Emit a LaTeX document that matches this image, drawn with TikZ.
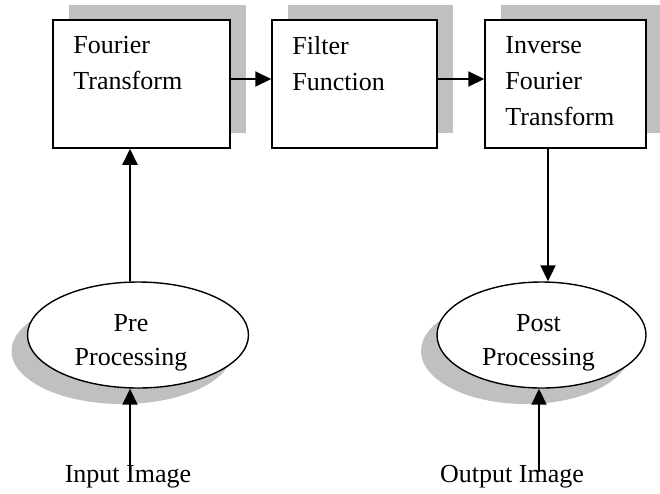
\documentclass[tikz,border=0pt]{standalone}
\usepackage{fontspec}
\setmainfont{Liberation Serif}
\usetikzlibrary{arrows.meta,shapes.geometric,shadows}
\definecolor{shadegray}{HTML}{C0C0C0}

\begin{document}
\begin{tikzpicture}[x=1pt, y=-1pt,
  font=\fontsize{26}{36}\selectfont,
  box/.style={draw, line width=1.5pt, fill=white, minimum height=128pt, inner sep=0pt,
    drop shadow={shadow xshift=16pt, shadow yshift=15pt, fill=shadegray, opacity=1}},
  boxtext/.style={anchor=north west, align=left, inner sep=0pt, xshift=21pt, yshift=-17pt},
  proc/.style={ellipse, draw, line width=1.4pt, fill=white, minimum height=106pt, inner sep=0pt,
    drop shadow={shadow xshift=-16pt, shadow yshift=-16pt, fill=shadegray, opacity=1}},
  proctext/.style={align=center, inner sep=0pt, font=\fontsize{26}{34}\selectfont},
  arr/.style={line width=2pt, -{Triangle[length=16pt, width=15pt]}}]
\useasboundingbox (0,0) rectangle (660,493);

% Transform chain
\node[box, minimum width=177pt] (fourier) at (141.5,84) {};
\node[boxtext] (fourierText) at (fourier.north west) {Fourier\\Transform};
\node[box, minimum width=165pt] (filter) at (354.5,84) {};
\node[boxtext] (filterText) at (filter.north west) {Filter\\Function};
\node[box, minimum width=161pt] (inverse) at (565.5,84) {};
\node[boxtext] (inverseText) at (inverse.north west) {Inverse\\Fourier\\Transform};

% Pre and post processing
\node[proc, minimum width=221pt] (pre) at (138,335) {};
\node[proctext, xshift=-7pt, yshift=-8pt] (preText) at (pre.center) {Pre\\Processing};
\node[proc, minimum width=209pt] (post) at (541.5,335) {};
\node[proctext, xshift=-3pt, yshift=-8pt] (postText) at (post.center) {Post\\Processing};

% Input and output
\node (input) at (128,477) {Input Image};
\node (output) at (512,477) {Output Image};
\coordinate (inStart) at (130,472);
\coordinate (outStart) at (539,472);

% Arrows
\draw[arr] ([yshift=5pt]fourier.east) -- ([yshift=5pt]filter.west);
\draw[arr] ([yshift=5pt]filter.east) -- ([yshift=5pt]inverse.west);
\draw[arr] ([xshift=-8pt]pre.north) -- ([xshift=-11.5pt]fourier.south);
\draw[arr] ([xshift=-17.5pt]inverse.south) -- ([xshift=6.5pt]post.north);
\draw[arr] (inStart) -- (inStart |- pre.south);
\draw[arr] (outStart) -- (outStart |- post.south);
\end{tikzpicture}
\end{document}
